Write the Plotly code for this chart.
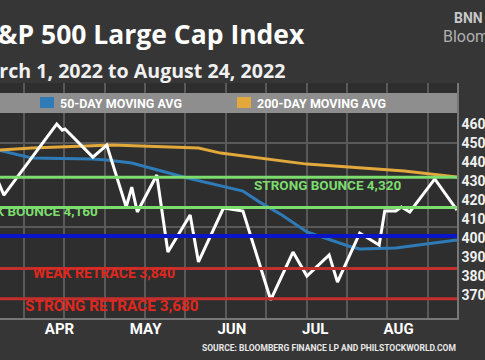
import plotly.graph_objects as go

# ---------------- data ----------------
sp_dates = ["2022-03-12", "2022-03-14", "2022-04-02", "2022-04-04", "2022-04-05",
            "2022-04-15", "2022-04-20", "2022-04-27", "2022-04-29", "2022-05-01",
            "2022-05-08", "2022-05-12", "2022-05-20", "2022-05-23", "2022-06-01",
            "2022-06-08", "2022-06-18", "2022-06-26", "2022-07-01", "2022-07-09",
            "2022-07-12", "2022-07-20", "2022-07-27", "2022-07-29", "2022-08-02",
            "2022-08-04", "2022-08-07", "2022-08-16", "2022-08-24"]
sp_values = [4295, 4226, 4600, 4568, 4574, 4426, 4489, 4163, 4268, 4137,
             4332, 3926, 4121, 3874, 4158, 4142, 3674, 3926, 3800, 3911,
             3768, 4026, 3963, 4142, 4142, 4163, 4137, 4311, 4147]

ma50_dates = ["2022-03-12", "2022-03-15", "2022-03-24", "2022-04-15", "2022-04-20",
              "2022-04-29", "2022-05-08", "2022-05-19", "2022-06-08", "2022-06-14",
              "2022-06-22", "2022-07-01", "2022-07-17", "2022-07-20", "2022-08-02",
              "2022-08-24"]
ma50_values = [4463, 4453, 4421, 4416, 4411, 4395, 4358, 4316, 4247, 4189,
               4121, 4032, 3953, 3942, 3947, 3989]

ma200_dates = ["2022-03-12", "2022-03-24", "2022-04-22", "2022-05-23", "2022-05-31",
               "2022-07-01", "2022-08-05", "2022-08-11", "2022-08-24"]
ma200_values = [4463, 4474, 4489, 4474, 4447, 4389, 4353, 4342, 4321]

level_values = [4320, 4160, 4010, 3840, 3680]
level_colors = ["#7ddc6e", "#7ddc6e", "#0a14c8", "#c22f2c", "#c22f2c"]
level_widths = [3, 3, 4, 3, 3]

level_labels = ["STRONG BOUNCE 4,320", "WEAK BOUNCE 4,160",
                "WEAK RETRACE 3,840", "STRONG RETRACE 3,680"]

y_ticks = [4600, 4500, 4400, 4300, 4200, 4100, 4000, 3900, 3800, 3700]
y_grid = [4500, 4058]
month_labels = ["APR", "MAY", "JUN", "JUL", "AUG"]
month_label_dates = ["2022-04-03", "2022-05-04", "2022-06-04", "2022-07-04", "2022-08-03"]

title = "S&amp;P 500 Large Cap Index"
subtitle = "March 1, 2022 to August 24, 2022"
source = "SOURCE: BLOOMBERG FINANCE LP AND PHILSTOCKWORLD.COM"

# ---------------- layout helpers ----------------
W, H = 485, 360
L, R, T, B = 0, 28, 83, 42
PW, PH = W - L - R, H - T - B


def px(x):
    return (x - L) / PW


def py(y):
    return (H - B - y) / PH


FONT = "Roboto, Arial, sans-serif"
TFONT = "'Open Sans', Roboto, Arial, sans-serif"

fig = go.Figure()

fig.add_trace(go.Scatter(x=ma50_dates, y=ma50_values, mode="lines",
                         line=dict(color="#2e7bb8", width=3), showlegend=False))
fig.add_trace(go.Scatter(x=ma200_dates, y=ma200_values, mode="lines",
                         line=dict(color="#e3a83c", width=3), showlegend=False))

for v, c, w in zip(level_values, level_colors, level_widths):
    fig.add_hline(y=v, line=dict(color=c, width=w), layer="above")

fig.add_trace(go.Scatter(x=sp_dates, y=sp_values, mode="lines",
                         line=dict(color="#ffffff", width=3), showlegend=False))

shapes = []
shapes.append(dict(type="rect", xref="paper", yref="paper", x0=px(-5), x1=px(490),
                   y0=py(-5), y1=py(15), fillcolor="#4b4b4b", line_width=0, layer="below"))
shapes.append(dict(type="rect", xref="paper", yref="paper", x0=px(-5), x1=px(447),
                   y0=py(15), y1=py(53), fillcolor="#111111", line_width=0, layer="below"))
shapes.append(dict(type="rect", xref="paper", yref="paper", x0=px(447), x1=px(490),
                   y0=py(15), y1=py(53), fillcolor="#3e3e3e", line_width=0, layer="below"))
shapes.append(dict(type="rect", xref="paper", yref="paper", x0=px(-5), x1=px(490),
                   y0=py(53), y1=py(83), fillcolor="#353535", line_width=0, layer="below"))
shapes.append(dict(type="rect", xref="paper", yref="paper", x0=px(457), x1=px(490),
                   y0=py(83), y1=py(318), fillcolor="#121212", line_width=0, layer="below"))
shapes.append(dict(type="rect", xref="paper", yref="paper", x0=px(0), x1=px(457),
                   y0=py(93), y1=py(113), fillcolor="#8e8e8e", line_width=0, layer="above"))
shapes.append(dict(type="rect", xref="paper", yref="paper", x0=px(40), x1=px(54),
                   y0=py(97), y1=py(108), fillcolor="#2e7bb8", line_width=0, layer="above"))
shapes.append(dict(type="rect", xref="paper", yref="paper", x0=px(237), x1=px(251),
                   y0=py(97), y1=py(108), fillcolor="#e3a83c", line_width=0, layer="above"))

annotations = []
annotations.append(dict(xref="paper", yref="paper", x=px(-19), y=py(34), xanchor="left",
                        yanchor="middle", showarrow=False, text="<b>" + title + "</b>",
                        font=dict(family=TFONT, size=26.5, color="#ffffff")))
annotations.append(dict(xref="paper", yref="paper", x=px(-33), y=py(70), xanchor="left",
                        yanchor="middle", showarrow=False, text="<b>" + subtitle + "</b>",
                        font=dict(family=TFONT, size=19.6, color="#f0f0f0")))
annotations.append(dict(xref="paper", yref="paper", x=px(452), y=py(18), xanchor="left",
                        yanchor="middle", showarrow=False, text="<b>BNN</b>",
                        font=dict(family=FONT, size=14, color="#c8c8c8")))
annotations.append(dict(xref="paper", yref="paper", x=px(441), y=py(36), xanchor="left",
                        yanchor="middle", showarrow=False, text="Bloomberg",
                        font=dict(family=FONT, size=16, color="#b0b0b0")))
annotations.append(dict(xref="paper", yref="paper", x=px(58), y=py(103), xanchor="left",
                        yanchor="middle", showarrow=False, text="<b>50-DAY MOVING AVG</b>",
                        font=dict(family=FONT, size=12.5, color="#ffffff")))
annotations.append(dict(xref="paper", yref="paper", x=px(255), y=py(103), xanchor="left",
                        yanchor="middle", showarrow=False, text="<b>200-DAY MOVING AVG</b>",
                        font=dict(family=FONT, size=12.5, color="#ffffff")))

label_pos = [(252, 185, "left", "#7ddc6e", 13.5), (100, 211, "right", "#7ddc6e", 13.5),
             (31, 273, "left", "#e0281f", 14), (23, 306, "left", "#e0281f", 15.3)]
for (x, y, anc, col, fs), txt in zip(label_pos, level_labels):
    annotations.append(dict(xref="paper", yref="paper", x=px(x), y=py(y), xanchor=anc,
                            yanchor="middle", showarrow=False, text="<b>" + txt + "</b>",
                            font=dict(family=FONT, size=fs, color=col)))

annotations.append(dict(xref="paper", yref="paper", x=px(458), y=py(348), xanchor="right",
                        yanchor="middle", showarrow=False, text="<b>" + source + "</b>",
                        font=dict(family=FONT, size=8.5, color="#e8e8e8")))

x_range = ["2022-03-12 14:24", "2022-08-24 00:00"]

fig.update_layout(
    width=W, height=H,
    margin=dict(l=L, r=R, t=T, b=B, pad=0),
    paper_bgcolor="#363636",
    plot_bgcolor="#2e2e2e",
    showlegend=False,
    shapes=shapes,
    annotations=annotations,
    xaxis=dict(type="date", range=x_range, showgrid=False,
               tickmode="array", tickvals=month_label_dates, ticktext=month_labels,
               tickfont=dict(family=FONT, size=15, color="#ffffff", weight="bold"),
               ticks="", ticklabelstandoff=-4,
               minor=dict(tickmode="linear", tick0="2022-03-21 04:48",
                          dtick=14.53 * 86400000, showgrid=True,
                          gridcolor="#595959", gridwidth=1.5, ticks=""),
               zeroline=False, showline=True, linecolor="#777777", linewidth=1.5,
               automargin=False, fixedrange=True),
    yaxis=dict(range=[3579, 4816], side="right", tickmode="array", tickvals=y_ticks,
               ticktext=[str(v) for v in y_ticks], showgrid=False, zeroline=False,
               ticks="", showline=True, linecolor="#777777", linewidth=1.5,
               tickfont=dict(family=FONT, size=14, color="#f0f0f0", weight="bold"),
               minor=dict(tickmode="array", tickvals=y_grid, showgrid=True,
                          gridcolor="#595959", gridwidth=1.5, ticks=""),
               ticklabelstandoff=0, automargin=False, fixedrange=True),
)

fig.write_html("out.html", config={"displayModeBar": False},
               post_script="document.body.style.margin='0px';document.body.style.padding='0px';")
